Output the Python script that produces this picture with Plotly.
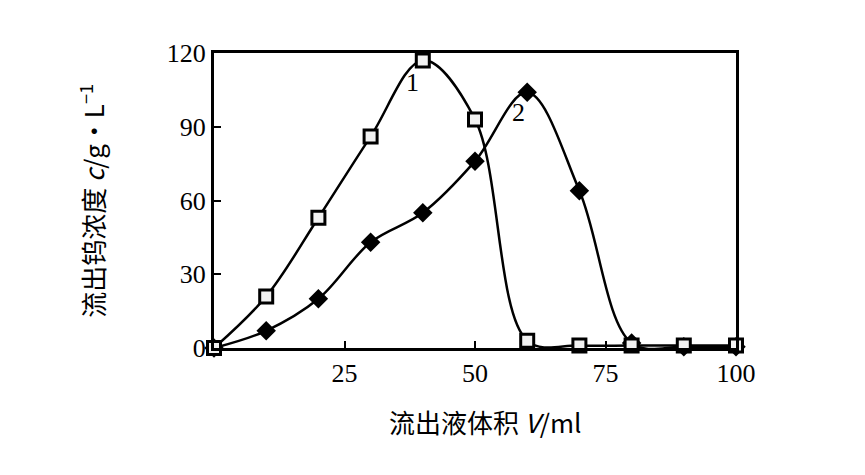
import plotly.graph_objects as go

# 流出液体积 V/ml
volume = [0, 10, 20, 30, 40, 50, 60, 70, 80, 90, 100]
# curve 1 (squares) and curve 2 (diamonds), c / g·L-1
conc_1 = [0, 21, 53, 86, 117, 93, 3, 1, 1, 1, 1]
conc_2 = [0, 7, 20, 43, 55, 76, 104, 64, 2, 0.5, 0.5]

x_ticks = [25, 50, 75, 100]
y_ticks = [0, 30, 60, 90, 120]

serif = "Liberation Serif, Times New Roman, serif"
cjk = "Noto Sans CJK SC, Liberation Serif, serif"

fig = go.Figure()

fig.add_trace(go.Scatter(
    x=volume, y=conc_2, mode="lines+markers", name="2",
    line=dict(color="black", width=2.5, shape="spline", smoothing=1),
    marker=dict(symbol="diamond", size=15, color="black"),
    cliponaxis=False))

fig.add_trace(go.Scatter(
    x=volume, y=conc_1, mode="lines+markers", name="1",
    line=dict(color="black", width=2.5, shape="spline", smoothing=1),
    marker=dict(symbol="square", size=13, color="#f2f2f2",
                line=dict(color="black", width=3)),
    cliponaxis=False))

# curve labels
fig.add_annotation(x=40, y=117, text="1", showarrow=False, yshift=-22, xshift=-10,
                   font=dict(family=serif, size=26, color="black"))
fig.add_annotation(x=60, y=104, text="2", showarrow=False, yshift=-20, xshift=-9,
                   font=dict(family=serif, size=26, color="black"))

# axis titles
fig.add_annotation(xref="paper", yref="paper", x=-0.235, y=0.5, textangle=-90,
                   xanchor="center", yanchor="middle",
                   text="流出钨浓度 <i>c</i>/g·L<sup>−1</sup>", showarrow=False,
                   font=dict(family=cjk, size=26, color="black"))
fig.add_annotation(xref="paper", yref="paper", x=0.52, y=-0.25,
                   xanchor="center", yanchor="middle",
                   text="流出液体积 <i>V</i>/ml", showarrow=False,
                   font=dict(family=cjk, size=26, color="black"))

fig.update_xaxes(range=[0, 100], tickvals=x_ticks, ticks="inside", ticklen=7,
                 tickwidth=2, tickcolor="black", showline=True, linewidth=3,
                 linecolor="black", mirror=True, showgrid=False, zeroline=False,
                 tickfont=dict(family=serif, size=26, color="black"))
fig.update_yaxes(range=[0, 120], tickvals=y_ticks, ticks="inside", ticklen=7,
                 tickwidth=2, tickcolor="black", showline=True, linewidth=3,
                 linecolor="black", mirror=True, showgrid=False, zeroline=False,
                 tickfont=dict(family=serif, size=26, color="black"))

fig.update_layout(width=865, height=475, showlegend=False,
                  plot_bgcolor="white", paper_bgcolor="white",
                  margin=dict(l=206, r=137, t=45, b=135))

fig.write_html("out.html")
